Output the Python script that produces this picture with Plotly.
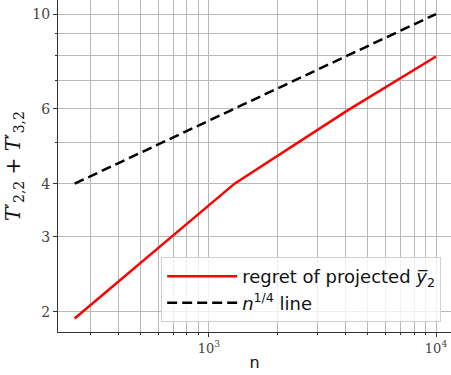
import plotly.graph_objects as go

n_values = [256, 1296, 4096, 10000]
regret_values = [1.93, 4.0, 5.95, 7.95]
quarter_line_values = [4, 6, 8, 10]

x_tickvals = [1000, 10000]
x_ticktext = ["10<sup>3</sup>", "10<sup>4</sup>"]
x_minor = [300, 400, 500, 600, 700, 800, 900, 2000, 3000, 4000, 5000, 6000, 7000, 8000, 9000]
y_tickvals = [2, 3, 4, 6, 10]
y_ticktext = ["2", "3", "4", "6", "10"]
y_minor = [5, 7, 8, 9]

fig = go.Figure()
fig.add_trace(go.Scatter(x=n_values, y=regret_values, mode="lines",
                         line=dict(color="#ff0000", width=2.5),
                         name="regret of projected <i>y̅</i><sub>2</sub>"))
fig.add_trace(go.Scatter(x=n_values, y=quarter_line_values, mode="lines",
                         line=dict(color="#000000", width=2.5, dash="10px,5px"),
                         name="<i>n</i><sup>1/4</sup> line"))

serif = "DejaVu Serif"
fig.update_layout(
    width=451, height=375,
    margin=dict(l=58, r=0, t=0, b=43, autoexpand=False),
    paper_bgcolor="white", plot_bgcolor="white",
    showlegend=True,
    legend=dict(x=0.975, xanchor="right", y=0.03, yanchor="bottom",
                bgcolor="rgba(255,255,255,0.8)", bordercolor="#d0d0d0", borderwidth=1,
                font=dict(family="DejaVu Sans", size=18, color="#111"),
                itemwidth=70, tracegroupgap=0),
    xaxis=dict(type="log", range=[2.335, 4.066], automargin=False,
               tickvals=x_tickvals, ticktext=x_ticktext,
               tickfont=dict(family=serif, size=13, color="#444"),
               ticks="outside", ticklen=4, tickcolor="#333",
               showgrid=True, gridcolor="#b8b8b8", gridwidth=1,
               showline=True, linecolor="#333", linewidth=1, mirror=False,
               zeroline=False,
               minor=dict(tickvals=x_minor, showgrid=True, gridcolor="#b8b8b8", gridwidth=1,
                          ticks="outside", ticklen=2, tickcolor="#333"),
               title=dict(text="n", font=dict(family="DejaVu Sans", size=16, color="#111"), standoff=2)),
    yaxis=dict(type="log", range=[0.254, 1.033], automargin=False,
               tickvals=y_tickvals, ticktext=y_ticktext,
               tickfont=dict(family=serif, size=14, color="#444"),
               ticks="outside", ticklen=4, tickcolor="#333",
               showgrid=True, gridcolor="#b8b8b8", gridwidth=1,
               showline=True, linecolor="#333", linewidth=1,
               zeroline=False,
               minor=dict(tickvals=y_minor, showgrid=True, gridcolor="#b8b8b8", gridwidth=1,
                          ticks="outside", ticklen=2, tickcolor="#333"),
               title=dict(text="<i>T</i>′<sub>2,2</sub> + <i>T</i>′<sub>3,2</sub>",
                          font=dict(family=serif, size=20, color="#111"), standoff=6)),
)

fig.write_html("out.html", config={"displayModeBar": False},
               post_script="document.body.style.margin='0';")
